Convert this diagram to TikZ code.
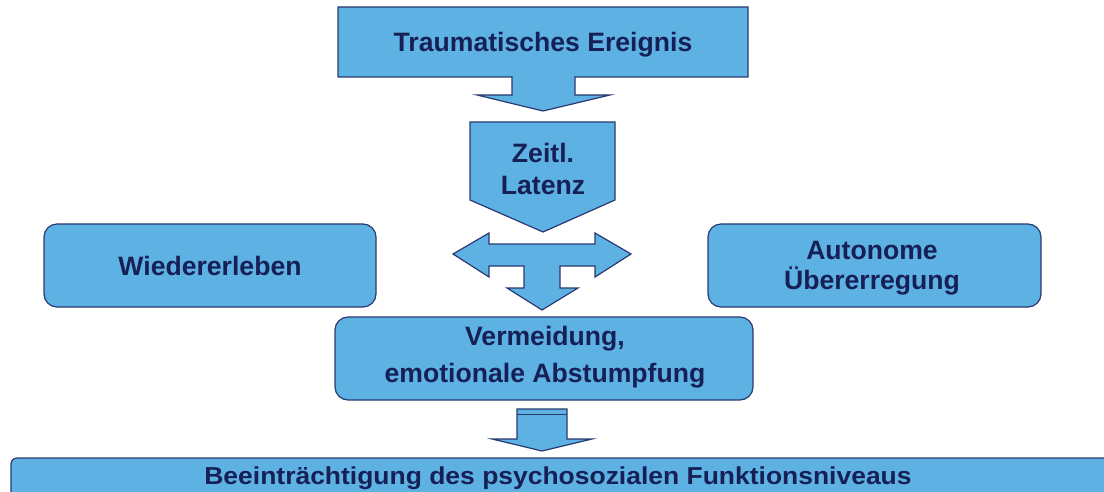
\documentclass[tikz,border=0pt]{standalone}
\usepackage{fontspec}
\setmainfont{Liberation Sans}
\usepackage{graphicx}
\definecolor{boxblue}{RGB}{94,177,227}
\definecolor{edgeblue}{RGB}{42,58,112}
\definecolor{ink}{RGB}{22,32,86}
\tikzset{
  blk/.style={fill=boxblue, draw=edgeblue, line width=1.2pt, line join=miter},
  rbox/.style={blk, rounded corners=13pt, inner sep=0pt},
  lbl/.style={text=ink, font=\bfseries\fontsize{26.6}{32}\selectfont, inner sep=0pt, anchor=base},
}
\begin{document}
\begin{tikzpicture}[x=1pt,y=-1pt]
\useasboundingbox (0,0) rectangle (1104,492);
\clip (0,0) rectangle (1104,492);

% event box with its downward arrow
\draw[blk] (338,7) -- (748,7) -- (748,77) -- (575,77) -- (575,95) -- (610,95)
  -- (543,111) -- (477,95) -- (512,95) -- (512,77) -- (338,77) -- cycle;
\node[lbl] (event) at (543,52) {Traumatisches Ereignis};

% latency pentagon
\draw[blk] (470,122) -- (615,122) -- (615,200) -- (543,232) -- (470,200) -- cycle;
\node[lbl] (lat1) at (543,163) {Zeitl.};
\node[lbl] (lat2) at (543,195) {Latenz};

% three-way arrow
\draw[blk] (453,254) -- (489,233) -- (489,244) -- (595,244) -- (595,233) -- (631,254)
  -- (595,277) -- (595,266) -- (560,266) -- (560,288) -- (578,288) -- (542,310)
  -- (507,288) -- (524,288) -- (524,266) -- (489,266) -- (489,277) -- cycle;

% symptom boxes
\node[rbox, minimum width=332pt, minimum height=83pt] (wieder) at (210,265.5) {};
\node[lbl] (wieder-t) at (210,275) {Wiedererleben};

\node[rbox, minimum width=333pt, minimum height=83pt] (auto) at (874.5,265.5) {};
\node[lbl] (auto1) at (872,259) {Autonome};
\node[lbl] (auto2) at (872,289) {Übererregung};

\node[rbox, minimum width=418pt, minimum height=83pt] (verm) at (544,358.5) {};
\node[lbl] (verm1) at (545,345) {Vermeidung,};
\node[lbl] (verm2) at (545,382) {emotionale Abstumpfung};

% lower arrow
\draw[blk] (517,409) -- (567,409) -- (567,439) -- (592,439) -- (542,451)
  -- (492,439) -- (517,439) -- cycle;
\draw[edgeblue, line width=1.2pt] (517,414.5) -- (567,414.5);

% outcome banner
\node[rbox, rounded corners=6pt, minimum width=1110pt, minimum height=48pt] (outcome) at (566,482) {};
\node[lbl] (outcome-t) at (558,484)
  {\scalebox{1.08}[1]{\fontsize{24.5}{28}\selectfont Beeinträchtigung des psychosozialen Funktionsniveaus}};
\end{tikzpicture}
\end{document}
